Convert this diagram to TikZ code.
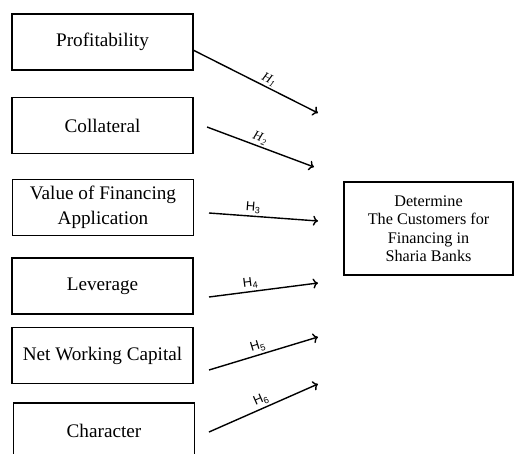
\documentclass[tikz,border=0pt]{standalone}
\usepackage{fontspec}
\setmainfont{Liberation Serif}
\setsansfont{Liberation Sans}
\usetikzlibrary{arrows.meta}

\tikzset{
  factor/.style={draw, line width=1.1pt, minimum width=181pt, minimum height=56pt,
    align=center, inner sep=2pt, font=\fontsize{19.2}{25}\selectfont},
  target/.style={draw, line width=1.1pt, minimum width=169pt, minimum height=93pt,
    align=center, font=\fontsize{16.2}{18.5}\selectfont},
  hyp/.style={line width=1.4pt, -{To[length=5pt,width=10pt]}},
  hlabel/.style={sloped, above, inner sep=2pt, font=\fontsize{13}{13}\selectfont}
}

\begin{document}
\begin{tikzpicture}[x=1pt,y=-1pt]
  \clip (0,0) rectangle (514,453);

  % independent variables
  \node[factor] (prof) at (102.5,42)  {Profitability};
  \node[factor] (coll) at (102.5,125.5) {Collateral};
  \node[factor] (vfa)  at (103,207.5) {Value of Financing\\Application};
  \node[factor] (lev)  at (102.5,286) {Leverage};
  \node[factor] (nwc)  at (102.5,355.5) {Net Working Capital};
  \node[factor] (char) at (104,431) {Character};

  % dependent variable
  \node[target] (cust) at (428.5,228.5)
    {Determine\\The Customers for\\Financing in\\Sharia Banks};

  % arrow ends, short of the target box
  \coordinate (h1s) at (193,50);  \coordinate (h1e) at (318,113);
  \coordinate (h2s) at (207,127); \coordinate (h2e) at (314,167);
  \coordinate (h3s) at (209,213); \coordinate (h3e) at (318,221);
  \coordinate (h4s) at (209,297); \coordinate (h4e) at (318,283);
  \coordinate (h5s) at (209,370); \coordinate (h5e) at (318,337);
  \coordinate (h6s) at (209,432); \coordinate (h6e) at (318,384);

  \draw[hyp] (h1s) -- node[hlabel, pos=0.58] {\textit{H\textsubscript{1}}} (h1e);
  \draw[hyp] (h2s) -- node[hlabel, pos=0.47] {\textit{H\textsubscript{2}}} (h2e);
  \draw[hyp] (h3s) -- node[hlabel, pos=0.40] {\sffamily H\textsubscript{3}} (h3e);
  \draw[hyp] (h4s) -- node[hlabel, pos=0.39] {\sffamily H\textsubscript{4}} (h4e);
  \draw[hyp] (h5s) -- node[hlabel, pos=0.47] {\sffamily H\textsubscript{5}} (h5e);
  \draw[hyp] (h6s) -- node[hlabel, pos=0.51] {\sffamily H\textsubscript{6}} (h6e);
\end{tikzpicture}
\end{document}
